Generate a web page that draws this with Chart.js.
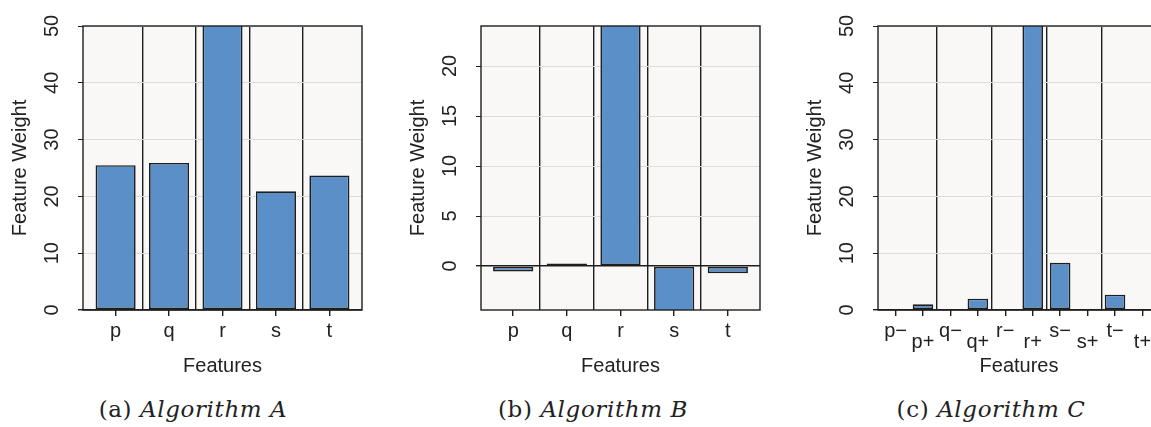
<!DOCTYPE html>
<html>
<head>
<meta charset="utf-8">
<script src="https://cdn.jsdelivr.net/npm/chart.js@4.4.1/dist/chart.umd.min.js"></script>
<style>
  html, body { margin: 0; padding: 0; background: #fff; }
  body { width: 1151px; height: 427px; overflow: hidden; position: relative; }
  canvas { position: absolute; top: 0; }
  .cap {
    position: absolute; top: 396px; transform: translateX(-50%);
    font-family: "DejaVu Serif", serif; font-size: 23px; color: #222; white-space: nowrap;
    letter-spacing: 0.6px;
  }
</style>
</head>
<body>
<canvas id="chartA" width="380" height="380" style="left:0px"></canvas>
<canvas id="chartB" width="380" height="380" style="left:398px"></canvas>
<canvas id="chartC" width="383" height="380" style="left:795px"></canvas>
<div class="cap" style="left:193px">(a) <i>Algorithm A</i></div>
<div class="cap" style="left:593px">(b) <i>Algorithm B</i></div>
<div class="cap" style="left:991px">(c) <i>Algorithm C</i></div>
<script>
// data
var featuresAB = ['p', 'q', 'r', 's', 't'];
var featuresC = ['p\u2212', 'p+', 'q\u2212', 'q+', 'r\u2212', 'r+', 's\u2212', 's+', 't\u2212', 't+'];

var weightsA = [25.5, 25.9, 62, 20.9, 23.7];
var weightsB = [-0.55, 0.26, 30, -6.5, -0.72];
var weightsC = [0, 1.0, 0, 2.0, 0, 62, 8.3, 0, 2.7, 0];

var yTicksA = [0, 10, 20, 30, 40, 50];
var yTicksB = [0, 5, 10, 15, 20];
var yTicksC = [0, 10, 20, 30, 40, 50];

// group separators (between categories)
var sepAB = [0.5, 1.5, 2.5, 3.5];
var sepC = [1.5, 3.5, 5.5, 7.5];

Chart.defaults.font.family = 'Liberation Sans';
Chart.defaults.font.size = 20;
Chart.defaults.color = '#222';

var ink = '#1e1e1e';
var clear = 'rgba(0,0,0,0)';

function tv(c) { return c && c.tick ? c.tick.value : null; }

// panel background and frame
var framePlugin = {
  id: 'frame',
  beforeDraw: function(chart) {
    var a = chart.chartArea, ctx = chart.ctx;
    ctx.save();
    ctx.fillStyle = '#f9f8f6';
    ctx.fillRect(a.left, a.top, a.right - a.left, a.bottom - a.top);
    ctx.restore();
  },
  afterDraw: function(chart) {
    var a = chart.chartArea, ctx = chart.ctx;
    ctx.save();
    ctx.strokeStyle = ink;
    ctx.lineWidth = 1.4;
    ctx.strokeRect(a.left, a.top, a.right - a.left, a.bottom - a.top);
    ctx.restore();
  }
};

function makeChart(id, labels, values, yTicks, seps, xr, yr, stagger) {
  var pts = values.map(function(v, i) { return {x: i, y: v}; });
  new Chart(document.getElementById(id), {
    type: 'bar',
    data: {
      datasets: [{
        data: pts,
        backgroundColor: '#5b8fc8',
        borderColor: ink,
        borderWidth: 1.7,
        borderSkipped: false,
        categoryPercentage: 1,
        // separator ticks halve the min gap, so 1.5 -> 0.75 of a category
        barPercentage: 1.5,
        clip: 0
      }]
    },
    options: {
      responsive: false,
      animation: false,
      devicePixelRatio: 1,
      layout: {padding: {top: 20, right: 18, left: 0, bottom: 0}},
      plugins: {legend: {display: false}, tooltip: {enabled: false}},
      scales: {
        x: {
          type: 'linear',
          offset: false,
          bounds: 'data',
          min: xr[0],
          max: xr[1],
          afterBuildTicks: function(s) {
            var vals = labels.map(function(l, i) { return i; }).concat(seps);
            vals.sort(function(a, b) { return a - b; });
            s.ticks = vals.map(function(v) { return {value: v}; });
          },
          afterFit: function(s) { s.height = 70; },
          border: {display: false},
          grid: {
            offset: false,
            color: function(c) { var v = tv(c); return v !== null && !Number.isInteger(v) ? ink : clear; },
            tickColor: function(c) { var v = tv(c); return v !== null && Number.isInteger(v) ? ink : clear; },
            lineWidth: 1.4,
            tickLength: 6
          },
          ticks: {
            autoSkip: false,
            maxRotation: 0,
            padding: 3,
            font: function(c) {
              var v = tv(c);
              var odd = stagger && v !== null && Math.round(v) % 2 === 1;
              return {size: 20, lineHeight: odd ? 2.3 : 1.2};
            },
            callback: function(v) { return Number.isInteger(v) ? labels[v] : ''; }
          },
          title: {display: true, text: 'Features', padding: {top: 0, bottom: 2}}
        },
        y: {
          min: yr[0],
          max: yr[1],
          bounds: 'data',
          afterBuildTicks: function(s) {
            s.ticks = yTicks.map(function(v) { return {value: v}; });
          },
          afterFit: function(s) { s.width = 83; },
          border: {display: false},
          grid: {
            color: function(c) { return tv(c) === 0 ? ink : '#dcdcdc'; },
            lineWidth: function(c) { return tv(c) === 0 ? 1.4 : 1; },
            tickColor: ink,
            tickLength: 5
          },
          ticks: {
            autoSkip: false,
            minRotation: 90,
            maxRotation: 90,
            crossAlign: 'center',
            padding: 14
          },
          title: {display: true, text: 'Feature Weight', padding: {top: 8, bottom: 0}}
        }
      }
    },
    plugins: [framePlugin]
  });
}

makeChart('chartA', featuresAB, weightsA, yTicksA, sepAB, [-0.61, 4.61], [0, 50], false);
makeChart('chartB', featuresAB, weightsB, yTicksB, sepAB, [-0.6, 4.6], [-4.4, 24], false);
makeChart('chartC', featuresC, weightsC, yTicksC, sepC, [-0.64, 9.64], [0, 50], true);
</script>
</body>
</html>
